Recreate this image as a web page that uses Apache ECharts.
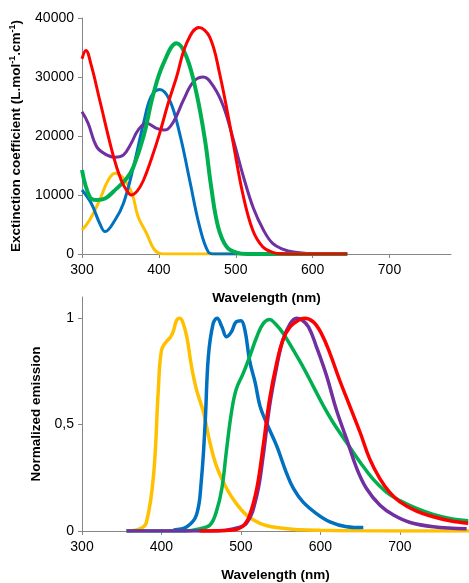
<!DOCTYPE html>
<html>
<head>
<meta charset="utf-8">
<script src="https://cdn.jsdelivr.net/npm/echarts@6/dist/echarts.min.js"></script>
<style>
  html, body { margin: 0; padding: 0; background: #fff; }
  #chart { width: 469px; height: 583px; }
</style>
</head>
<body>
<div id="chart"></div>
<script>
// absorption spectra: [wavelength nm, extinction coefficient]
var absRed = [[300,33100],[305,34500],[312,32000],[323,26100],[341,16500],[351,12500],[358,10800],[364,10000],[372,10700],[380,12500],[390,16000],[401,20450],[412,25500],[423,30000],[436,35700],[452,38400],[466,36800],[479,30600],[496,19300],[509,10300],[522,4070],[535,1240],[548,280],[560,40],[580,0],[645,0]];
var absGreen = [[300,14240],[310,9700],[319,9150],[330,9400],[341,10600],[358,12800],[367,14800],[380,19900],[393,27200],[406,32300],[423,35700],[436,33400],[449,27200],[460,19300],[468,11400],[477,4630],[488,1240],[501,226],[515,0],[645,0]];
var absBlue = [[300,10850],[312,8600],[323,5200],[330,3800],[343,5760],[354,8600],[367,14800],[380,22150],[390,26700],[401,27900],[414,26100],[427,20450],[440,12540],[453,4630],[464,400],[472,0],[645,0]];
var absPurple = [[300,24100],[308,22150],[319,18200],[332,16800],[343,16400],[354,16800],[364,18760],[373,21000],[384,22150],[397,21300],[408,21000],[419,22400],[432,26100],[445,29200],[458,30000],[471,28400],[484,25000],[497,19300],[510,13100],[523,7740],[536,4070],[548,1800],[562,790],[575,340],[600,50],[620,0],[645,0]];
var absYellow = [[300,4070],[310,5760],[323,9150],[334,12500],[343,13700],[354,12800],[365,10300],[373,6300],[384,3500],[393,960],[401,110],[410,0],[645,0]];

// emission spectra: [wavelength nm, normalized intensity]
var emYellow = [[356,0],[373,0.01],[381,0.04],[390,0.26],[396,0.66],[400,0.85],[406,0.89],[411,0.91],[415,0.94],[419,0.99],[423,1.0],[427,0.98],[432,0.91],[438,0.77],[444,0.665],[453,0.556],[461,0.416],[469,0.307],[482,0.2],[494,0.13],[507,0.075],[524,0.036],[545,0.016],[574,0.006],[600,0.003],[650,0.001],[787,0]];
var emBlue = [[415,0.005],[432,0.02],[444,0.075],[450,0.23],[455,0.51],[459,0.82],[465,0.975],[470,1.0],[476,0.96],[482,0.913],[488,0.936],[494,0.983],[500,0.988],[505,0.944],[511,0.8],[518,0.696],[524,0.587],[532,0.51],[545,0.4],[557,0.276],[566,0.2],[578,0.137],[595,0.082],[612,0.043],[633,0.02],[654,0.016]];
var emGreen = [[356,0],[430,0],[448,0.01],[461,0.028],[469,0.09],[476,0.2],[482,0.385],[488,0.556],[494,0.665],[503,0.742],[511,0.82],[520,0.913],[528,0.975],[536,0.994],[543,0.975],[553,0.93],[566,0.85],[578,0.773],[591,0.68],[604,0.587],[616,0.51],[633,0.416],[650,0.323],[666,0.245],[683,0.183],[700,0.143],[721,0.106],[742,0.078],[763,0.059],[786,0.048]];
var emPurple = [[356,0],[470,0],[490,0.01],[507,0.036],[520,0.168],[528,0.354],[536,0.587],[545,0.773],[553,0.9],[562,0.975],[570,1.0],[576,0.994],[585,0.96],[595,0.866],[608,0.727],[620,0.571],[633,0.432],[646,0.292],[658,0.2],[675,0.121],[692,0.075],[713,0.04],[742,0.02],[784,0.01]];
var emRed = [[448,0],[490,0.005],[503,0.025],[511,0.075],[520,0.2],[528,0.4],[536,0.618],[545,0.79],[553,0.9],[562,0.96],[572,0.99],[580,1.0],[591,0.983],[601,0.93],[612,0.835],[624,0.711],[637,0.587],[650,0.463],[662,0.339],[675,0.245],[687,0.183],[700,0.137],[721,0.093],[742,0.067],[763,0.048],[786,0.036]];

var C = { red: '#ff0000', green: '#00b050', blue: '#0070c0', purple: '#7030a0', yellow: '#ffc000' };
var axisGrey = '#868686';
var font = 'Liberation Sans';

function line(data, color, width, xi) {
  return {
    type: 'line', data: data, xAxisIndex: xi, yAxisIndex: xi,
    smooth: 0.4, symbol: 'none',
    lineStyle: { color: color, width: width },
    itemStyle: { color: color }
  };
}

function xAx(gi, max) {
  return {
    type: 'value', gridIndex: gi, min: 300, max: max, interval: 100,
    name: 'Wavelength (nm)', nameLocation: 'middle', nameGap: 37,
    nameTextStyle: { fontFamily: font, fontSize: 13.5, fontWeight: 'bold', color: '#000' },
    axisLine: { lineStyle: { color: axisGrey, width: 1 } },
    axisTick: { show: true, length: 4, lineStyle: { color: axisGrey } },
    axisLabel: { fontFamily: font, fontSize: 14, color: '#000', margin: 9, showMaxLabel: false },
    splitLine: { show: false }
  };
}

var chart = echarts.init(document.getElementById('chart'));
chart.setOption({
  animation: false,
  grid: [
    { left: 82, right: 18, top: 18, height: 236 },
    { left: 82, right: 0, top: 297, height: 236 }
  ],
  xAxis: [xAx(0, 780), xAx(1, 787)],
  yAxis: [
    {
      type: 'value', gridIndex: 0, min: 0, max: 40000, interval: 10000,
      name: '{a|Exctinction coefficient (L.mol}{s|-1}{a|.cm}{s|-1}{a|)}',
      nameLocation: 'middle', nameGap: 58, nameRotate: 90,
      nameTextStyle: {
        rich: {
          a: { fontFamily: font, fontSize: 13.5, fontWeight: 'bold', color: '#000' },
          s: { fontFamily: font, fontSize: 9, fontWeight: 'bold', color: '#000', padding: [0, 0, 7, 0] }
        }
      },
      axisLine: { show: true, lineStyle: { color: axisGrey } },
      axisTick: { show: true, length: 4, lineStyle: { color: axisGrey } },
      axisLabel: {
        fontFamily: font, fontSize: 14, color: '#000', margin: 8,
        formatter: function (v) { return String(v); }
      },
      splitLine: { show: false }
    },
    {
      type: 'value', gridIndex: 1, min: 0, max: 1.1, interval: 0.5,
      name: 'Normalized emission', nameLocation: 'middle', nameGap: 38, nameRotate: 90,
      nameTextStyle: { fontFamily: font, fontSize: 13.5, fontWeight: 'bold', color: '#000' },
      axisLine: { show: true, lineStyle: { color: axisGrey } },
      axisTick: { show: true, length: 4, lineStyle: { color: axisGrey } },
      axisLabel: {
        fontFamily: font, fontSize: 14, color: '#000', margin: 8, showMaxLabel: false,
        formatter: function (v) { return String(v).replace('.', ','); }
      },
      splitLine: { show: false }
    }
  ],
  series: [
    line(absYellow, C.yellow, 3, 0),
    line(absBlue, C.blue, 3, 0),
    line(absPurple, C.purple, 3, 0),
    line(absGreen, C.green, 4, 0),
    line(absRed, C.red, 3, 0),
    line(emYellow, C.yellow, 3.5, 1),
    line(emBlue, C.blue, 3.5, 1),
    line(emGreen, C.green, 3.5, 1),
    line(emPurple, C.purple, 3.5, 1),
    line(emRed, C.red, 3.5, 1)
  ]
});
</script>
</body>
</html>
